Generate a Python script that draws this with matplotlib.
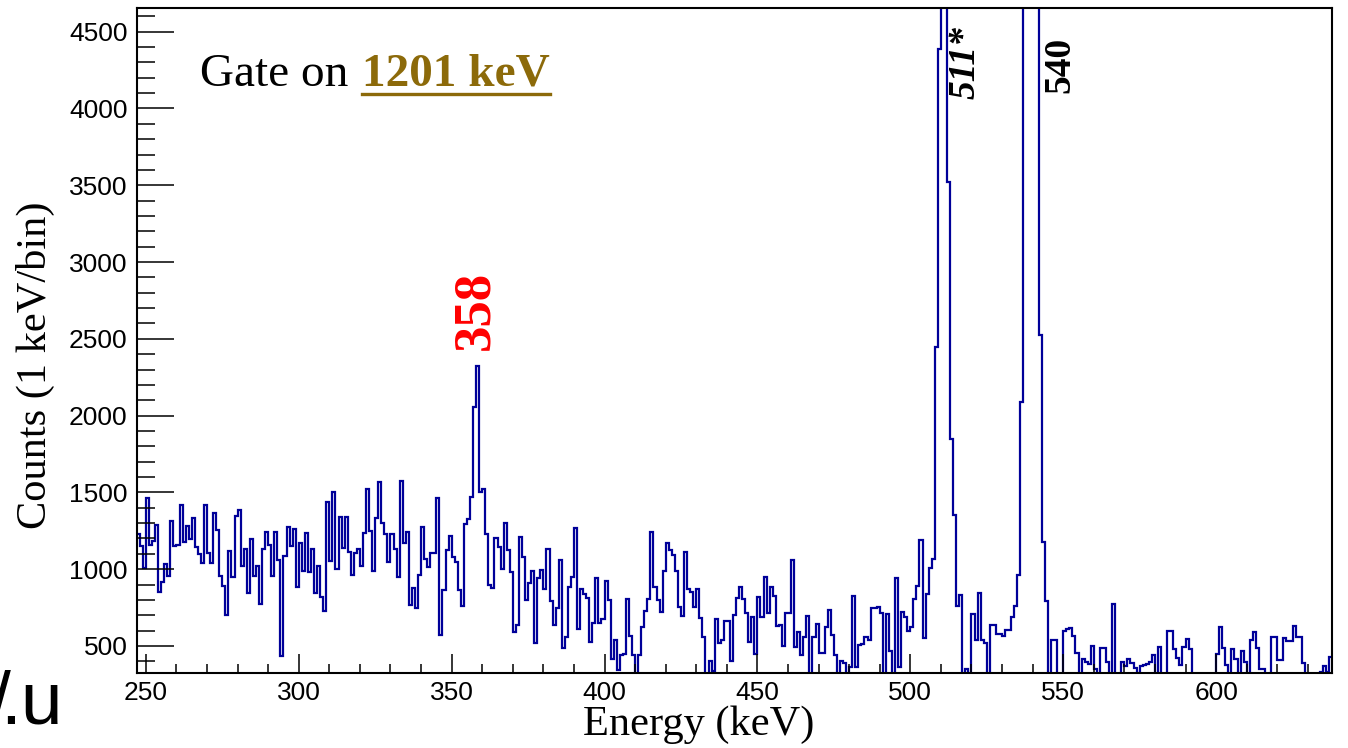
import numpy as np
import matplotlib
matplotlib.use("Agg")
import matplotlib.pyplot as plt
from matplotlib.ticker import MultipleLocator
from matplotlib.lines import Line2D

# ---------------- data ----------------
bin_start = 247          # first bin lower edge (keV), 1 keV per bin
counts = [
    1230, 1153, 1010,                                              # 247-249
    1461, 1157, 1185, 1290, 849, 914, 1033, 957, 1311, 1148,       # 250-259
    1159, 1420, 1179, 1283, 1196, 1333, 1142, 1099, 1040, 1420,    # 260-269
    1105, 1040, 1363, 1257, 957, 892, 704, 1116, 951, 1348,        # 270-279
    1385, 1023, 1131, 845, 1196, 953, 1023, 773, 1131, 1240,       # 280-289
    1159, 953, 1240, 1062, 432, 1088, 1272, 1153, 1261, 882,       # 290-299
    1170, 990, 1235, 984, 1131, 845, 1023, 816, 730, 1435,         # 300-309
    1055, 1500, 1000, 1342, 1136, 1342, 1114, 962, 1103, 1132,     # 310-319
    1021, 1238, 1522, 1251, 991, 1331, 1570, 1299, 1229, 1049,     # 320-329
    1227, 1132, 952, 1576, 1169, 1244, 767, 880, 745, 962,         # 330-339
    1277, 1067, 1012, 1108, 1108, 1466, 572, 865, 1125, 1218,      # 340-349
    1082, 1049, 865, 760, 1294, 1327, 1472, 2058, 2323, 1500,      # 350-359
    1522, 1229, 897, 875, 1201, 1142, 999, 1299, 1125, 984,        # 360-369
    593, 637, 1212, 1082, 800, 908, 991, 522, 945, 994,            # 370-379
    870, 1131, 792, 636, 745, 1059, 489, 560, 886, 951,            # 380-389
    1266, 610, 871, 836, 810, 528, 647, 944, 647, 675,             # 390-399
    923, 799, 413, 539, 343, 441, 447, 803, 567, 441,              # 400-409
    300, 439, 625, 727, 806, 1240, 881, 799, 723, 988,             # 410-419
    1172, 1124, 1092, 988, 751, 697, 1109, 871, 853, 756,          # 420-429
    868, 684, 560, 300, 404, 340, 675, 517, 539, 662,              # 430-439
    662, 400, 700, 814, 886, 806, 712, 528, 686, 447,              # 440-449
    821, 690, 951, 712, 881, 827, 632, 636, 502, 712,              # 450-459
    712, 1059, 495, 593, 441, 560, 697, 300, 556, 643,             # 460-469
    452, 452, 625, 734, 571, 441, 300, 402, 387, 300,              # 470-479
    365, 827, 365, 506, 513, 560, 539, 745, 745, 756,              # 480-489
    712, 300, 706, 469, 300, 944, 365, 719, 686, 600,              # 490-499
    621, 806, 890, 1190, 550, 836, 1010, 1065, 2445, 4390,         # 500-509
    9500, 12000, 3520, 1850, 1353, 760, 830, 300, 353, 300,        # 510-519
    705, 536, 846, 536, 522, 300, 635, 635, 578, 578,              # 520-529
    564, 607, 607, 691, 762, 960, 2090, 6000, 13000, 15000,        # 530-539
    11000, 5000, 2525, 1180, 790, 300, 539, 539, 300, 300,         # 540-549
    598, 609, 615, 565, 452, 300, 413, 398, 383, 500,              # 550-559
    348, 300, 485, 485, 398, 300, 771, 300, 300, 398,              # 560-569
    370, 413, 387, 355, 327, 370, 374, 380, 398, 442,              # 570-579
    300, 491, 300, 300, 600, 600, 478, 420, 376, 496,              # 580-589
    546, 478, 300, 300, 300, 300, 300, 300, 300, 300,              # 590-599
    446, 626, 485, 376, 300, 478, 413, 300, 470, 398,              # 600-609
    300, 539, 593, 485, 348, 348, 300, 300, 557, 557,              # 610-619
    409, 409, 550, 535, 535, 630, 561, 557, 387, 300,              # 620-629
    300, 300, 300, 300, 330, 370, 330, 426,                        # 630-637
]
x_ticks = [250, 300, 350, 400, 450, 500, 550, 600]
y_ticks = [500, 1000, 1500, 2000, 2500, 3000, 3500, 4000, 4500]
peak_labels = ["358", "511*", "540"]
peak_label_pos = [(357.6, 2430), (517.9, 4060), (548.9, 4100)]

# ---------------- figure ----------------
W, H = 1348, 748
fig = plt.figure(figsize=(W / 100, H / 100), dpi=100)
fig.patch.set_facecolor("white")
ax = fig.add_axes([136.7 / W, 1 - 672.7 / H, (1332.3 - 136.7) / W, (672.7 - 8.3) / H])

edges = np.arange(bin_start, bin_start + len(counts) + 1)
ax.stairs(counts, edges, color="#000099", linewidth=1.6, baseline=None)

ax.set_xlim(247, 638)
ax.set_ylim(326, 4652)

sans = ["Liberation Sans", "DejaVu Sans"]
serif = ["Liberation Serif", "DejaVu Serif"]

ax.set_xticks(x_ticks)
ax.set_yticks(y_ticks)
ax.xaxis.set_minor_locator(MultipleLocator(10))
ax.yaxis.set_minor_locator(MultipleLocator(100))
ax.tick_params(axis="both", which="both", direction="in", top=False, right=False,
               width=1.1, colors="black")
ax.tick_params(axis="y", which="major", length=26.5, pad=6.5)
ax.tick_params(axis="y", which="minor", length=13.3)
ax.tick_params(axis="x", which="major", length=13.7, pad=6)
ax.tick_params(axis="x", which="minor", length=6.8)
for lab in ax.get_xticklabels() + ax.get_yticklabels():
    lab.set_family(sans)
    lab.set_fontsize(19)
for sp in ax.spines.values():
    sp.set_linewidth(1.5)
    sp.set_color("black")

# axis titles
fig.text(35 / W, 1 - 365 / H, "Counts (1 keV/bin)", rotation=90, ha="center", va="center",
         family=serif, fontsize=30.5)
fig.text(699 / W, 1 - 725 / H, "Energy (keV)", ha="center", va="center",
         family=serif, fontsize=30.5)

# gate text
fig.text(200 / W, 1 - 86 / H, "Gate on ", ha="left", va="baseline", family=serif,
         fontsize=34, color="black")
t2 = fig.text(362 / W, 1 - 86 / H, "1201 keV", ha="left", va="baseline", family=serif,
              fontsize=34, fontweight="bold", color="#8c6a0a")
fig.canvas.draw()
bb = t2.get_window_extent(fig.canvas.get_renderer())
fig.add_artist(Line2D([bb.x0 / W, bb.x1 / W], [1 - 94 / H, 1 - 94 / H],
                      transform=fig.transFigure, color="#8c6a0a", linewidth=2.4))

# peak labels
ax.text(*peak_label_pos[0], peak_labels[0], rotation=90, ha="center", va="bottom",
        family=serif, fontsize=38, fontweight="bold", color="red")
ax.text(*peak_label_pos[1], peak_labels[1], rotation=90, ha="center", va="bottom",
        family=serif, fontsize=27, fontweight="bold", fontstyle="italic", color="black")
ax.text(*peak_label_pos[2], peak_labels[2], rotation=90, ha="center", va="bottom",
        family=serif, fontsize=27, fontweight="bold", color="black")

# cropped text fragment at bottom-left (partly outside the picture, as in the reference)
fig.text(-10 / W, 1 - 723 / H, "/", ha="left", va="baseline", family=sans,
         fontsize=54, color="black")
fig.text(0 / W, 1 - 723 / H, ".u", ha="left", va="baseline", family=sans,
         fontsize=54, color="black")

fig.savefig("out.png", dpi=100, facecolor="white")
